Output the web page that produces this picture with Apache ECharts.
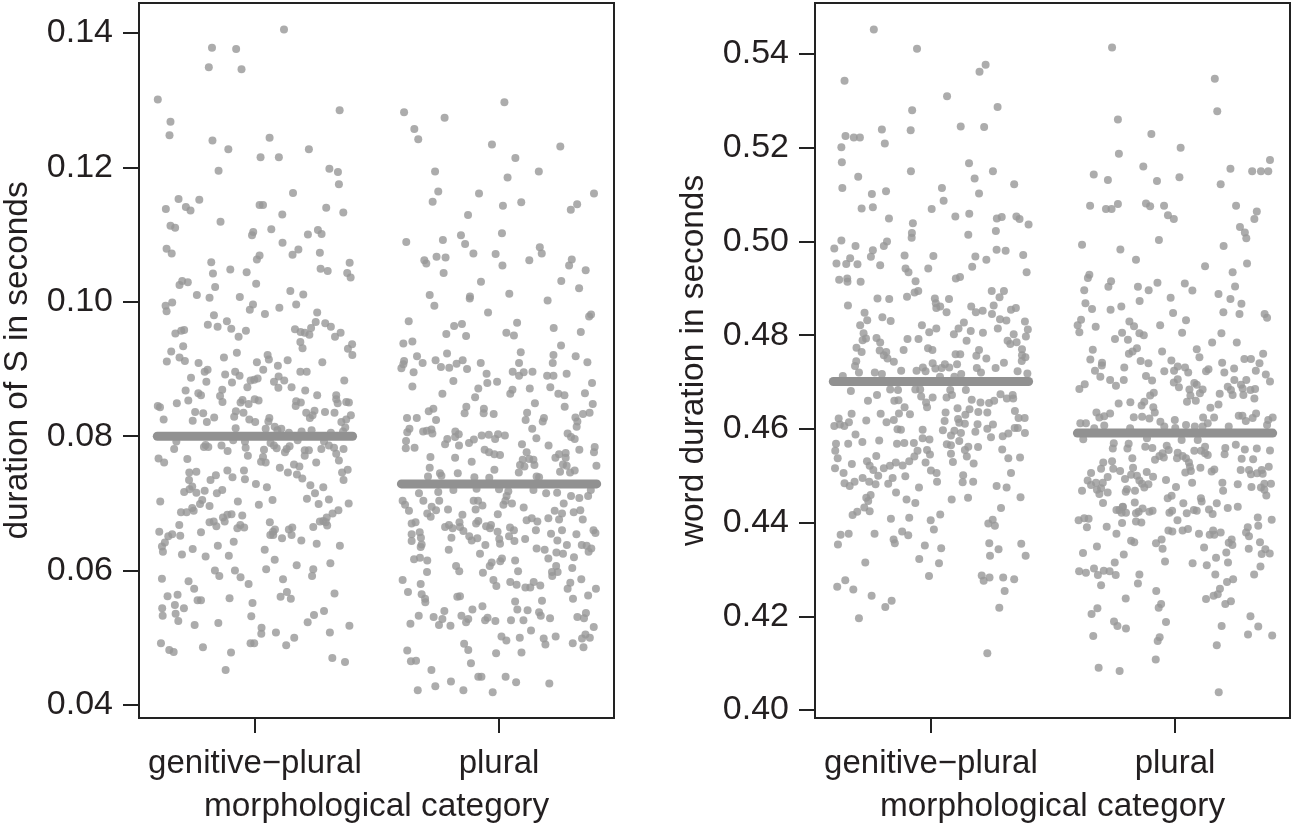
<!DOCTYPE html>
<html><head><meta charset="utf-8">
<style>html,body{margin:0;padding:0;background:#fff}#c{width:1293px;height:825px}</style>
<script src="https://cdn.jsdelivr.net/npm/echarts@6/dist/echarts.min.js"></script>
</head><body><div id="c"></div>
<script>
const categories = ['genitive\u2212plural', 'plural'];
const xTitle = 'morphological category';
const leftTitle = 'duration of S in seconds';
const rightTitle = 'word duration in seconds';
const leftTicks = [0.04, 0.06, 0.08, 0.10, 0.12, 0.14];
const rightTicks = [0.40, 0.42, 0.44, 0.46, 0.48, 0.50, 0.52, 0.54];
const leftMeans = [0.0800, 0.0729];
const rightMeans = [0.4701, 0.4591];

// [jittered category position, duration in seconds]
const durationGenitive = [
[1.119,.1405],[.824,.1378],[.923,.1376],[.811,.1349],[.945,.1346],[.602,.1301],[1.347,.1285],[.654,.1268],[.650,.1248],[.826,.1240],[1.060,.1244],[.891,.1227],[1.221,.1227],[1.023,.1215],[1.098,.1215],[.851,.1195],[1.305,.1198],[1.340,.1193],[1.344,.1175],[1.156,.1162],[.687,.1153],[.772,.1152],[.635,.1138],[.717,.1141],[.736,.1136],[1.019,.1144],[1.033,.1144],[1.292,.1140],[1.362,.1133],[1.112,.1130],[.859,.1119],[.654,.1113],[.673,.1110],[.993,.1104],[.988,.1099],[1.067,.1108],[1.258,.1107],[1.273,.1101],[1.217,.1100],
[1.113,.1088],[.638,.1079],[.659,.1072],[1.178,.1078],[1.154,.1070],[1.266,.1073],[1.019,.1069],[1.008,.1063],[.821,.1059],[1.388,.1058],[.899,.1048],[.966,.1044],[.828,.1042],[1.269,.1049],[1.298,.1046],[1.378,.1043],[1.392,.1036],[.702,.1031],[.725,.1029],[.691,.1025],[1.005,.1027],[.837,.1022],[1.145,.1016],[1.198,.1011],[.762,.1010],[.814,.1006],[.938,.1007],[.661,.0999],[.634,.0994],[.638,.0986],[.992,.0996],[.979,.0988],[1.169,.0996],[1.100,.0991],[1.041,.0982],[1.255,.0984],[.832,.0980],[.807,.0966],[.847,.0963],[.885,.0971],[.903,.0960],[.963,.0957],[.933,.0948],[1.249,.0970],[1.288,.0968],[1.311,.0963],[1.230,.0961],[1.164,.0959],[1.187,.0955],[1.204,.0954],[1.223,.0951],[1.351,.0954],[1.328,.0948],[.710,.0958],[.698,.0957],[.674,.0953],[1.186,.0940],[1.195,.0931],[1.398,.0937],[1.381,.0930],[1.399,.0921],[.706,.0934],[.657,.0926],[.691,.0917],[.713,.0912],[.639,.0911],[.926,.0924],[.873,.0917],[1.052,.0921],[1.057,.0914],[1.134,.0913],[1.008,.0910],[1.276,.0910],[.769,.0909],[1.094,.0905],[1.034,.0899],[.806,.0899],[.794,.0896],[.919,.0896],[.878,.0892],[.937,.0890],[1.186,.0896],[1.212,.0896],[.738,.0887],[1.011,.0886],[.997,.0884],[.982,.0883],[1.097,.0889],[1.078,.0881],[1.120,.0883],[1.366,.0883],[.801,.0881],[.906,.0880],[.969,.0873],[1.096,.0872],[1.150,.0873],[1.206,.0868],[.716,.0868],[.866,.0869],[.857,.0860],[.867,.0851],[.768,.0864],[.779,.0861],[.727,.0853],[.680,.0849],[1.333,.0861],[1.255,.0861],[1.333,.0855],[1.339,.0849],[1.374,.0851],[1.385,.0850],[.949,.0854],[.941,.0850],[.974,.0848],[.999,.0855],[1.015,.0853],[1.169,.0852],[1.188,.0850],[1.167,.0845],[.602,.0845],[.611,.0843],[.626,.0825],[.755,.0836],[.788,.0834],[.833,.0828],[.745,.0823],[.803,.0821],[.922,.0837],[.915,.0829],[.953,.0835],[.977,.0825],[1.001,.0821],[1.059,.0827],[1.055,.0822],[1.210,.0835],[1.244,.0838],[1.236,.0831],[1.225,.0827],[1.287,.0836],[1.326,.0835],[1.393,.0831],[1.374,.0825],[1.354,.0821],[.921,.0812],[1.044,.0811],[1.081,.0814],[1.108,.0811],[1.092,.0809],[1.370,.0813],[1.191,.0807],[1.232,.0809],[1.361,.0807],
[1.139,.0805],[1.311,.0805],[.911,.0794],[1.175,.0794],[.959,.0792],[.678,.0792],[.669,.0781],[.798,.0787],[.791,.0784],[.809,.0784],[.863,.0786],[.888,.0778],[.962,.0783],[.971,.0771],[1.037,.0780],[1.064,.0790],[1.078,.0786],[1.089,.0782],[1.142,.0785],[1.130,.0781],[1.123,.0776],[1.204,.0779],[1.221,.0779],[1.204,.0771],[1.283,.0792],[1.272,.0781],[1.303,.0786],[1.324,.0783],[1.333,.0774],[1.363,.0781],[1.344,.0764],[.605,.0767],[.628,.0761],[.723,.0766],[1.033,.0769],[1.025,.0762],[1.044,.0761],[1.251,.0761],[1.160,.0758],[1.182,.0755],[1.102,.0753],[1.135,.0746],[1.172,.0743],[1.194,.0737],[1.380,.0750],[1.357,.0746],[1.363,.0735],[.731,.0746],[.760,.0747],[.887,.0749],[.955,.0749],[.840,.0742],[.908,.0739],[.959,.0736],[.730,.0735],[.818,.0735],
[1.004,.0729],[1.049,.0724],[1.227,.0727],[1.280,.0724],[.743,.0725],[.732,.0721],[.710,.0717],[.760,.0716],[.794,.0719],[.866,.0720],[.844,.0715],[1.246,.0715],[1.213,.0707],[1.303,.0706],[1.261,.0699],[1.384,.0700],[.612,.0703],[1.072,.0705],[.930,.0703],[1.016,.0698],[.784,.0705],[.775,.0699],[.814,.0696],[.743,.0693],[.749,.0689],[.697,.0687],[.720,.0687],[1.342,.0690],[1.318,.0685],[.904,.0684],[.887,.0683],[.869,.0679],[.948,.0682],[.876,.0673],[1.294,.0679],[1.266,.0673],[1.280,.0674],[1.290,.0672],[1.296,.0667],[1.239,.0665],[1.061,.0672],[.814,.0672],[.831,.0673],[.842,.0666],[.690,.0668],[.940,.0668],[.956,.0664],[.928,.0663],[.608,.0658],[.779,.0657],[1.153,.0664],[1.139,.0661],[1.150,.0653],[1.082,.0661],[1.074,.0658],[1.063,.0653],[1.075,.0653],[.661,.0654],[.645,.0651],[.694,.0652],[1.111,.0648],[1.190,.0645],[.631,.0642],[.619,.0636],[.623,.0628],[1.253,.0640],[.913,.0643],[1.348,.0637],[.848,.0637],[.745,.0632],[.701,.0624],[.798,.0621],[.893,.0622],[1.040,.0631],[1.081,.0616],[1.309,.0611],[1.171,.0608],[.836,.0600],[.854,.0592],[.918,.0600],[.941,.0590],[1.046,.0602],[1.239,.0602],[1.234,.0592],[.619,.0588],[.728,.0584],[1.115,.0587],[.974,.0580],[.751,.0573],[1.131,.0568],[1.105,.0561],[1.147,.0558],[1.326,.0566],[.683,.0564],[.642,.0562],[.896,.0559],[.765,.0556],[.779,.0556],[.990,.0552],[.672,.0549],[.620,.0544],[.709,.0544],[.675,.0536],[.622,.0533],[.686,.0525],[.985,.0532],[1.283,.0540],[1.242,.0534],[1.216,.0523],[.753,.0519],[.850,.0522],[1.027,.0515],[1.026,.0506],[1.086,.0508],[1.387,.0518],[1.307,.0508],[1.161,.0500],[1.128,.0489],[.615,.0492],[.649,.0482],[.667,.0479],[.787,.0486],[.982,.0492],[.997,.0492],[.902,.0478],[.880,.0452],[1.317,.0470],[1.369,.0464]
];

const durationPlural = [
[2.022,.1297],[1.611,.1282],[1.777,.1274],[1.653,.1257],[1.669,.1242],[1.971,.1234],[2.251,.1231],[2.067,.1214],[1.738,.1194],[2.163,.1194],[2.035,.1185],[1.751,.1164],[1.918,.1161],[2.389,.1161],[1.728,.1149],[2.091,.1148],[2.016,.1143],[2.320,.1145],[2.294,.1137],[1.873,.1129],[2.012,.1102],[1.844,.1099],[1.620,.1089],[1.770,.1092],[1.861,.1086],[2.167,.1081],[2.175,.1072],[1.895,.1072],[1.986,.1071],[1.744,.1067],[1.781,.1066],[1.694,.1062],[1.702,.1057],[2.124,.1062],[2.298,.1063],[2.014,.1054],[2.287,.1054],[2.355,.1047],[1.773,.1043],[1.926,.1030],[2.255,.1031],[2.328,.1020],[1.716,.1010],[2.042,.1012],[1.881,.1008],[1.880,.1005],[2.199,.1002],[1.735,.0994],[1.955,.0984],[2.377,.0981],[2.369,.0978],[1.630,.0971],[2.074,.0969],[1.816,.0964],[1.848,.0967],[2.224,.0961],
[1.784,.0952],[1.865,.0949],[2.030,.0954],[2.061,.0950],[2.335,.0955],[1.608,.0938],[1.645,.0941],[2.254,.0935],[2.089,.0925],[2.223,.0921],[2.314,.0919],[1.787,.0923],[1.664,.0919],[1.611,.0912],[1.687,.0909],[1.740,.0913],[2.082,.0909],[2.220,.0909],[2.362,.0910],[1.608,.0907],[1.600,.0901],[1.762,.0903],[1.796,.0902],[1.826,.0908],[1.851,.0913],[1.869,.0900],[1.925,.0909],[1.650,.0895],[1.949,.0893],[2.056,.0896],[2.101,.0895],[2.082,.0890],[2.137,.0896],[2.197,.0890],[2.223,.0890],[2.277,.0893],[1.813,.0882],[1.645,.0874],[1.952,.0879],[1.992,.0881],[2.381,.0879],[1.915,.0871],[2.126,.0871],[2.210,.0873],[2.055,.0869],[2.046,.0863],[1.768,.0863],[2.243,.0863],[2.268,.0861],[2.352,.0864],[1.902,.0858],[2.147,.0849],[2.384,.0848],[2.269,.0844],[1.866,.0844],[1.731,.0841],[1.712,.0837],[1.938,.0841],[1.859,.0834],[1.937,.0834],[1.978,.0833],[2.115,.0835],[2.371,.0835],[2.344,.0833],[2.313,.0828],[1.623,.0827],[1.663,.0827],[1.742,.0824],[2.109,.0824],[2.184,.0827],[2.179,.0822],[2.321,.0822],[2.318,.0814],[2.136,.0811],[1.633,.0811],[1.624,.0806],[1.689,.0807],[1.723,.0810],[1.704,.0808],[1.727,.0804],[1.821,.0807],[1.835,.0803],[1.820,.0799],[2.281,.0804],[2.295,.0799],[2.310,.0796],[2.153,.0797],[1.929,.0801],[1.958,.0802],[1.996,.0803],[2.024,.0801],[1.984,.0796],[1.788,.0796],[1.897,.0795],[1.877,.0790],[1.779,.0788],[1.836,.0786],[1.619,.0793],[1.618,.0782],[1.654,.0783],[2.094,.0788],[2.203,.0786],[2.392,.0784],[2.389,.0776],[2.329,.0780],[1.941,.0780],[1.959,.0776],[1.981,.0773],[2.004,.0772],[2.113,.0776],[2.246,.0773],[2.273,.0775],[2.231,.0768],[2.273,.0768],[1.719,.0769],[1.820,.0768],[1.888,.0762],[2.097,.0765],[2.124,.0766],[2.141,.0765],[2.086,.0757],[2.145,.0757],[2.104,.0755],[2.262,.0758],[2.277,.0756],[2.399,.0756],[1.716,.0753],[1.981,.0750],[2.081,.0746],[1.831,.0745],[2.250,.0747],[2.291,.0746],[2.310,.0749],[1.709,.0740],[1.758,.0745],[1.764,.0741],[1.899,.0739],[1.960,.0738],[2.154,.0740],[2.164,.0739],
[1.672,.0715],[1.751,.0717],[1.813,.0720],[1.908,.0722],[2.000,.0721],[2.038,.0718],[2.031,.0711],[2.141,.0720],[2.193,.0715],[2.238,.0716],[2.295,.0711],[2.329,.0708],[2.365,.0711],[2.376,.0720],[1.605,.0704],[1.615,.0698],[1.631,.0689],[1.690,.0704],[1.755,.0704],[1.896,.0704],[1.914,.0704],[1.932,.0697],[1.904,.0691],[2.026,.0704],[2.018,.0698],[2.053,.0700],[2.101,.0694],[2.265,.0700],[1.791,.0691],[1.724,.0695],[1.742,.0690],[1.706,.0685],[1.720,.0680],[1.850,.0683],[1.995,.0684],[2.228,.0689],[2.258,.0685],[2.306,.0687],[2.333,.0690],
[2.113,.0675],[2.134,.0678],[2.157,.0673],[2.202,.0678],[2.246,.0676],[2.343,.0676],[1.642,.0670],[1.658,.0672],[1.915,.0674],[1.906,.0670],[1.779,.0665],[1.795,.0668],[1.810,.0663],[1.838,.0672],[1.840,.0665],[1.854,.0659],[1.947,.0666],[1.967,.0668],[1.963,.0663],[1.994,.0658],[2.045,.0664],[2.061,.0660],[2.151,.0660],[2.258,.0660],[2.387,.0660],[2.395,.0656],[2.213,.0655],[2.317,.0654],[1.642,.0654],[1.675,.0657],[1.642,.0644],[1.680,.0649],[1.683,.0639],[1.679,.0635],[1.805,.0649],[1.878,.0651],[1.888,.0645],[1.911,.0648],[2.001,.0647],[2.004,.0640],[2.041,.0651],[2.063,.0644],[2.107,.0647],[2.239,.0645],[1.944,.0638],[2.278,.0638],[2.339,.0638],[2.359,.0637],[2.378,.0633],[2.367,.0628],[1.794,.0631],[2.154,.0633],[2.187,.0631],[2.235,.0627],[2.262,.0625],[1.922,.0625],[2.202,.0618],[2.307,.0620],[1.652,.0617],[1.676,.0619],[1.706,.0615],[2.012,.0618],[2.005,.0614],[2.066,.0615],[1.970,.0612],[1.962,.0607],[1.824,.0607],[1.837,.0599],[2.234,.0607],[2.300,.0604],[1.705,.0598],[1.934,.0597],[2.078,.0599],[2.217,.0598],[2.240,.0598],[2.218,.0592],[2.337,.0587],[1.605,.0586],[1.977,.0586],[1.989,.0577],[1.679,.0580],[2.046,.0583],[2.072,.0579],[2.142,.0583],[2.108,.0575],[2.128,.0575],[2.169,.0578],[2.292,.0582],[2.281,.0573],[2.397,.0573],[1.627,.0568],[1.683,.0565],[1.697,.0558],[1.698,.0553],[1.829,.0561],[1.840,.0562],[2.365,.0563],[2.303,.0558],[2.066,.0554],[2.176,.0555],[1.932,.0547],[1.891,.0542],[2.075,.0542],[2.117,.0541],[1.776,.0540],[2.164,.0538],[2.171,.0533],[2.356,.0537],[1.671,.0533],[1.732,.0531],[1.768,.0528],[1.846,.0533],[1.874,.0528],[1.865,.0523],[1.953,.0530],[1.943,.0526],[2.209,.0529],[2.321,.0531],[2.348,.0529],[1.637,.0521],[1.754,.0519],[1.801,.0518],[1.985,.0525],[2.049,.0526],[2.100,.0526],[2.388,.0516],[2.131,.0511],[2.010,.0502],[2.030,.0496],[2.085,.0500],[2.183,.0499],[2.190,.0490],[2.232,.0502],[2.354,.0505],[2.340,.0499],[2.372,.0500],[2.302,.0492],[2.346,.0486],[1.857,.0491],[1.874,.0482],[1.624,.0481],[1.988,.0477],[2.092,.0478],[1.639,.0465],[1.660,.0466],[1.885,.0462],[1.723,.0452],[1.915,.0442],[1.928,.0442],[2.027,.0442],[2.070,.0434],[1.803,.0435],[2.206,.0432],[1.739,.0428],[1.667,.0422],[1.854,.0422],[1.974,.0419]
];

const wordGenitive = [
[.766,.5452],[.943,.5411],[1.224,.5377],[1.199,.5362],[.646,.5343],[1.066,.5310],[1.273,.5287],[.923,.5280],[.799,.5239],[.917,.5237],[1.122,.5245],[1.218,.5244],[.650,.5225],[.684,.5222],[.709,.5222],[.633,.5201],[.811,.5209],[.635,.5169],[1.156,.5167],[.918,.5150],[1.254,.5150],[.702,.5138],[1.179,.5134],[.637,.5114],[1.045,.5114],[1.341,.5122],[.816,.5107],[.758,.5101],[1.197,.5102],[1.052,.5087],[.716,.5070],[.762,.5073],[1.003,.5069],[.828,.5049],[1.100,.5053],[1.157,.5059],[1.270,.5049],[1.290,.5052],[1.350,.5053],[1.363,.5048],[1.400,.5036],[.926,.5039],[1.266,.5022],[.922,.5018],[.921,.5008],[1.153,.5014],[.633,.5002],[.820,.5000],[.807,.4990],[.604,.4985],[.691,.4990],[.762,.4981],[.892,.4970],[1.010,.4969],[1.269,.4982],[1.306,.4980],[1.378,.4971],[1.182,.4968],[1.227,.4961],[.754,.4967],[.669,.4964],[.613,.4953],[.653,.4952],[.699,.4951],[.792,.4949],[.896,.4942],[.908,.4934],[.989,.4942],[1.169,.4946],[1.392,.4934],[.624,.4918],[.657,.4921],[.658,.4914],[.712,.4914],[.937,.4915],[1.102,.4921],[1.119,.4924],[1.249,.4894],[1.299,.4894],[.933,.4891],[.948,.4894],[1.281,.4881],[.902,.4882],[.781,.4878],[.829,.4877],[1.016,.4878],[1.074,.4877],
[.660,.4863],[1.020,.4868],[1.038,.4861],[1.022,.4858],[1.165,.4861],[1.064,.4849],[1.184,.4849],[1.212,.4852],[1.257,.4863],[1.250,.4845],[1.348,.4858],[1.328,.4854],[.728,.4848],[.801,.4838],[.739,.4832],[.835,.4830],[1.283,.4834],[1.309,.4831],[1.385,.4829],[.710,.4821],[.963,.4821],[1.135,.4827],[1.113,.4814],[1.022,.4814],[.993,.4806],[1.163,.4809],[1.094,.4802],[1.213,.4805],[1.274,.4814],[1.397,.4812],[1.339,.4802],[1.389,.4797],[.724,.4804],[.734,.4793],[.720,.4789],[.777,.4794],[.792,.4784],[.904,.4792],[.949,.4792],[1.146,.4788],[1.314,.4788],[1.325,.4781],[1.351,.4785],[.695,.4773],[.716,.4764],[.888,.4768],[.988,.4772],[1.006,.4768],[.790,.4767],[.817,.4764],[.807,.4757],[.822,.4750],[1.197,.4768],[1.186,.4756],[1.101,.4759],[1.120,.4759],[1.373,.4770],[1.373,.4757],[1.387,.4753],[1.372,.4745],[1.227,.4750],[1.299,.4741],[.848,.4743],[.694,.4744],[.689,.4734],[1.007,.4740],[1.107,.4738],[1.057,.4738],[1.044,.4730],[1.075,.4731],[1.018,.4729],[.967,.4731],[.978,.4723],[1.188,.4730],[1.265,.4730],[.941,.4724],[.878,.4724],[.705,.4720],[.770,.4720],[.799,.4717],[1.205,.4720],[1.355,.4723],[1.395,.4718],[.639,.4713],[1.124,.4717],[1.037,.4711],[1.096,.4711],
[.672,.4681],[.833,.4684],[.865,.4683],[.936,.4684],[.956,.4684],[1.079,.4683],[1.143,.4683],[.779,.4672],[.960,.4669],[1.007,.4667],[1.064,.4667],[1.086,.4672],[1.285,.4674],[1.335,.4672],[1.311,.4665],[1.337,.4665],[.742,.4660],[.850,.4660],[.867,.4661],[1.167,.4662],[1.203,.4656],[1.238,.4655],[1.259,.4660],[.980,.4656],[.984,.4646],[.892,.4646],[1.109,.4644],[1.158,.4642],[1.344,.4638],[.869,.4633],[.794,.4632],[.914,.4631],[.675,.4632],[1.060,.4635],[1.141,.4630],[1.194,.4636],[1.231,.4635],[.622,.4622],[.848,.4619],[.818,.4614],[.735,.4618],[.664,.4614],[1.056,.4617],[1.111,.4621],[1.116,.4613],[1.139,.4611],[1.359,.4623],[1.384,.4623],[1.191,.4610],[1.254,.4609],[.604,.4606],[.627,.4609],[.645,.4606],[1.049,.4597],[.966,.4598],[.863,.4599],[.877,.4598],[1.231,.4600],[1.182,.4594],[1.343,.4602],[1.356,.4602],[1.096,.4596],[1.123,.4591],[1.082,.4586],[1.385,.4591],[.691,.4588],[1.246,.4582],[1.317,.4590],[1.294,.4584],[.966,.4580],[.994,.4577],[.788,.4575],[.719,.4572],[.661,.4568],[.611,.4568],[.861,.4568],[.891,.4570],[.930,.4570],[1.116,.4574],[1.065,.4567],[1.082,.4565],[1.193,.4561],[1.153,.4562],[1.139,.4555],[1.292,.4556],[.608,.4553],[.945,.4553],[.984,.4555],[1.082,.4547],[.996,.4545],[.618,.4537],[.776,.4542],[.932,.4541],[1.147,.4541],[1.317,.4537],[1.365,.4539],[.911,.4531],[.738,.4531],[.856,.4528],[.978,.4528],[1.090,.4529],[.676,.4525],[.884,.4522],[.832,.4521],[.749,.4521],[1.175,.4526],[.807,.4516],[.764,.4512],[.607,.4516],[1.000,.4511],[1.023,.4506],[1.328,.4506],[.642,.4506],[.784,.4500],[.895,.4499],[1.132,.4501],[.720,.4495],[.843,.4495],[.747,.4487],[.687,.4487],[.646,.4484],[.667,.4478],[.773,.4482],[.825,.4483],[1.025,.4487],[1.130,.4486],[1.173,.4487],[1.269,.4478],[1.310,.4475],[.951,.4475],
[.857,.4464],[1.367,.4454],[.753,.4459],[.735,.4453],[.743,.4446],[.900,.4449],[.936,.4442],[1.085,.4449],[1.152,.4453],[1.287,.4431],[.727,.4432],[.698,.4423],[.749,.4424],[.679,.4416],[1.038,.4417],[.836,.4408],[.911,.4410],[.999,.4405],[1.253,.4406],[1.235,.4398],[1.262,.4393],[1.012,.4385],[.882,.4381],[.907,.4373],[.663,.4376],[.630,.4374],[.769,.4376],[.847,.4364],[.852,.4356],[.619,.4353],[.975,.4351],[1.239,.4356],[1.370,.4355],[1.042,.4345],[1.277,.4343],[1.242,.4329],[1.388,.4329],[.952,.4322],[.731,.4315],[1.033,.4313],[.992,.4286],[1.208,.4287],[1.216,.4276],[1.240,.4283],[1.296,.4283],[1.341,.4279],[.649,.4277],[.616,.4263],[.682,.4257],[1.302,.4254],[.757,.4244],[.839,.4233],[.813,.4220],[1.280,.4218],[.705,.4196],[1.231,.4121]
];

const wordPlural = [
[1.742,.5414],[2.163,.5347],[2.173,.5278],[1.766,.5260],[1.903,.5229],[2.023,.5200],[1.770,.5187],[1.870,.5160],[1.667,.5143],[1.725,.5131],[1.926,.5129],[2.018,.5137],[2.227,.5155],[2.316,.5150],[2.352,.5150],[2.382,.5150],[2.389,.5174],[2.187,.5122],[1.652,.5076],[1.717,.5069],[1.740,.5069],[1.766,.5080],[1.881,.5081],[1.898,.5075],[1.955,.5076],[1.971,.5056],[1.995,.5048],[2.250,.5076],[2.335,.5064],[2.325,.5048],[2.266,.5031],[2.286,.5019],[2.292,.5007],[1.934,.5003],[1.619,.4993],[2.199,.4990],[1.776,.4983],[1.840,.4961],[2.123,.4947],[2.295,.4953],[1.649,.4929],[1.643,.4922],[2.236,.4934],[1.738,.4915],[1.727,.4903],[1.928,.4912],[1.848,.4903],[1.892,.4896],[2.040,.4910],[2.071,.4895],[2.246,.4904],[1.628,.4896],[2.178,.4888],[1.982,.4880],[2.227,.4877],[1.633,.4868],[1.855,.4873],[2.272,.4867],[1.660,.4856],[1.736,.4854],[1.780,.4861],[1.992,.4847],[2.198,.4849],[2.264,.4845],[2.367,.4845],[2.377,.4837],[1.615,.4833],[1.813,.4829],[2.045,.4832],[1.601,.4821],[1.675,.4818],[1.832,.4819],[1.939,.4821],
[1.608,.4806],[1.783,.4805],[1.854,.4804],[1.872,.4800],[2.029,.4805],[2.190,.4804],[1.754,.4792],[1.807,.4790],[2.152,.4784],[2.253,.4784],[1.663,.4769],[1.844,.4772],[1.826,.4765],[1.811,.4760],[1.947,.4765],[2.089,.4770],[2.100,.4753],[2.361,.4760],[1.653,.4748],[1.701,.4741],[1.700,.4735],[1.859,.4745],[1.891,.4740],[1.985,.4746],[2.284,.4749],[2.311,.4749],[2.193,.4741],[2.346,.4740],[1.792,.4731],[2.011,.4733],[2.041,.4731],[2.242,.4729],[1.672,.4724],[1.956,.4723],[1.996,.4724],[2.054,.4720],[2.137,.4727],[2.127,.4723],[2.202,.4720],[2.331,.4724],[1.694,.4711],[1.881,.4713],[2.372,.4716],[1.734,.4704],[1.790,.4704],[1.906,.4703],[2.011,.4706],[1.995,.4699],[2.243,.4704],[2.292,.4704],[2.389,.4701],[1.630,.4695],[1.608,.4685],[1.758,.4692],[2.079,.4698],[2.089,.4694],[2.016,.4689],[2.270,.4694],[2.216,.4690],[2.277,.4686],[2.059,.4684],[2.113,.4684],[2.309,.4683],[2.328,.4685],[2.229,.4683],[2.102,.4676],[1.913,.4677],[1.898,.4671],[2.183,.4675],[2.280,.4672],[2.236,.4672],[2.063,.4671],[2.325,.4665],[2.049,.4658],[2.085,.4660],[1.769,.4654],[1.817,.4657],[1.874,.4658],[1.863,.4650],[2.178,.4652],[2.145,.4645],[1.911,.4646],[1.917,.4635],[1.678,.4635],[1.734,.4633],[1.710,.4627],[1.690,.4624],[1.831,.4625],[1.865,.4626],[1.895,.4622],[1.999,.4619],[2.115,.4624],[2.160,.4624],[2.261,.4628],[2.276,.4628],[2.290,.4617],[2.332,.4633],[2.318,.4623],[2.400,.4624],[2.382,.4619],[2.377,.4608],[1.940,.4615],[1.612,.4612],[1.635,.4612],[1.710,.4607],[1.669,.4601],[1.956,.4605],[2.045,.4608],[2.081,.4605],[2.134,.4612],[2.113,.4605],[2.220,.4605],[1.816,.4601],[2.001,.4602],
[1.624,.4578],[1.885,.4580],[2.027,.4576],[2.093,.4576],[1.749,.4569],[1.810,.4568],[1.745,.4558],[1.805,.4558],[1.878,.4562],[1.907,.4559],[1.966,.4564],[1.974,.4555],[2.123,.4562],[2.079,.4553],[2.107,.4553],[2.123,.4548],[2.134,.4544],[2.206,.4559],[2.203,.4546],[2.249,.4566],[2.286,.4556],[2.335,.4558],[2.389,.4554],[1.949,.4548],[1.936,.4542],[1.954,.4539],[1.918,.4534],[2.011,.4549],[2.008,.4537],[2.031,.4542],[2.045,.4537],[1.825,.4537],[1.742,.4531],[2.273,.4536],[2.320,.4535],[2.057,.4528],[1.706,.4528],[1.697,.4515],[1.747,.4515],[1.775,.4510],[1.828,.4517],[1.884,.4508],[1.910,.4498],[2.061,.4519],[2.065,.4510],[2.042,.4507],[2.104,.4517],[2.161,.4513],[2.150,.4509],[2.269,.4512],[2.303,.4512],[2.311,.4503],[2.336,.4505],[2.355,.4512],[2.359,.4504],[2.384,.4519],[1.656,.4506],[1.724,.4497],[1.820,.4502],[1.844,.4500],[1.795,.4493],[1.963,.4491],[1.642,.4490],[1.854,.4490],[1.865,.4483],[1.891,.4482],[1.874,.4475],[2.004,.4476],[2.070,.4485],[2.194,.4485],[2.257,.4482],[2.313,.4476],[2.366,.4483],[2.393,.4483],[2.352,.4475],[1.676,.4485],[1.704,.4485],[1.656,.4480],[1.697,.4473],[1.680,.4470],[1.724,.4464],[1.619,.4468],[1.690,.4461],[1.803,.4471],[1.798,.4466],[1.836,.4468],[2.197,.4468],[2.366,.4470],[2.374,.4458],[1.986,.4457],[1.970,.4452],[2.106,.4452],[2.109,.4445],[1.835,.4443],[1.705,.4442],[2.034,.4441],[2.171,.4441],[1.786,.4433],[2.216,.4431],[2.257,.4434],
[1.772,.4427],[1.786,.4434],[1.799,.4421],[1.781,.4421],[1.760,.4427],[1.840,.4420],[1.851,.4423],[1.867,.4430],[1.895,.4423],[1.908,.4425],[1.977,.4421],[1.988,.4425],[2.048,.4420],[2.077,.4427],[2.089,.4425],[2.139,.4428],[2.154,.4418],[1.605,.4405],[1.628,.4409],[1.646,.4408],[1.639,.4390],[1.720,.4391],[1.783,.4399],[1.840,.4402],[1.862,.4400],[2.010,.4405],[2.339,.4411],[2.396,.4406],[2.341,.4393],[2.298,.4390],[2.291,.4379],[2.303,.4371],[1.973,.4383],[1.989,.4381],[2.031,.4383],[2.053,.4386],[2.098,.4376],[2.156,.4383],[2.142,.4374],[2.161,.4374],[2.187,.4379],[1.760,.4376],[1.820,.4361],[1.833,.4358],[1.945,.4364],[1.922,.4356],[2.232,.4364],[2.220,.4357],[2.235,.4352],[2.348,.4358],[1.680,.4349],[1.949,.4344],[2.119,.4347],[2.302,.4344],[2.370,.4343],[1.623,.4335],[1.790,.4332],[2.210,.4336],[2.355,.4333],[2.388,.4334],[2.168,.4325],[1.753,.4315],[1.959,.4317],[2.072,.4313],[2.130,.4309],[2.217,.4315],[2.350,.4306],[1.668,.4302],[1.607,.4296],[1.635,.4293],[1.708,.4297],[1.732,.4296],[1.684,.4288],[1.757,.4288],[1.854,.4289],[2.165,.4289],[2.324,.4289],[2.238,.4279],[2.213,.4273],[1.697,.4266],[1.848,.4270],[2.184,.4259],[1.923,.4254],[2.175,.4247],[2.158,.4244],[2.127,.4237],[1.798,.4238],[2.229,.4232],[2.206,.4226],[1.943,.4226],[1.933,.4218],[1.682,.4217],[1.658,.4205],[2.309,.4200],[1.963,.4188],[1.750,.4189],[1.764,.4179],[1.799,.4174],[2.191,.4179],[2.341,.4178],[2.299,.4161],[2.398,.4159],[1.665,.4158],[1.937,.4155],[1.929,.4147],[2.171,.4138],[1.921,.4108],[1.687,.4090],[1.773,.4083],[2.179,.4038]
];

const FONT = '"Liberation Sans", Arial, sans-serif';
const TEXT = '#231f20', FRAME = '#222222', DOT = '#979797', BAR = '#919191';

function xAxis(idx) {
  return {
    gridIndex: idx, type: 'value', min: 0.525, max: 2.471,
    splitLine: {show: false}, axisLine: {show: false},
    axisTick: {show: true, length: 15, inside: false, customValues: [1, 2], lineStyle: {color: FRAME, width: 2}},
    axisLabel: {show: true, customValues: [1, 2], margin: 29, fontFamily: FONT, fontSize: 33, color: TEXT,
      formatter: v => categories[Math.round(v) - 1]},
    name: xTitle, nameLocation: 'middle', nameGap: 72,
    nameTextStyle: {fontFamily: FONT, fontSize: 33.4, color: TEXT}
  };
}
function yAxis(idx, min, max, ticks, title, gap) {
  return {
    gridIndex: idx, type: 'value', min, max,
    splitLine: {show: false}, axisLine: {show: false},
    axisTick: {show: true, length: 16, customValues: ticks, lineStyle: {color: FRAME, width: 2}},
    axisLabel: {show: true, customValues: ticks, margin: 26, padding: [3, 0, 0, 0], fontFamily: FONT, fontSize: 34, color: TEXT,
      formatter: v => v.toFixed(2)},
    name: title, nameLocation: 'middle', nameRotate: 90, nameGap: gap,
    nameTextStyle: {fontFamily: FONT, fontSize: 33.4, color: TEXT}
  };
}
function dots(idx, data) {
  return {type: 'scatter', xAxisIndex: idx, yAxisIndex: idx, data, symbolSize: 8,
    itemStyle: {color: DOT}, silent: true, z: 2};
}
function mean(idx, cat, value) {
  return {type: 'line', xAxisIndex: idx, yAxisIndex: idx, showSymbol: false, symbol: 'none',
    data: [[cat - 0.4, value], [cat + 0.4, value]],
    lineStyle: {color: BAR, width: 9, cap: 'round'}, silent: true, z: 3};
}

const chart = echarts.init(document.getElementById('c'), null, {renderer: 'canvas'});
chart.setOption({
  animation: false,
  backgroundColor: '#fff',
  grid: [
    {left: 139, top: 3, width: 475, height: 715, outerBoundsMode: 'none', containLabel: false, show: true, borderColor: FRAME, borderWidth: 2, backgroundColor: 'transparent'},
    {left: 815, top: 3, width: 475, height: 715, outerBoundsMode: 'none', containLabel: false, show: true, borderColor: FRAME, borderWidth: 2, backgroundColor: 'transparent'}
  ],
  xAxis: [xAxis(0), xAxis(1)],
  yAxis: [
    yAxis(0, 0.03807, 0.14446, leftTicks, leftTitle, 105),
    yAxis(1, 0.39829, 0.55088, rightTicks, rightTitle, 105)
  ],
  series: [
    dots(0, durationGenitive), dots(0, durationPlural), dots(1, wordGenitive), dots(1, wordPlural),
    mean(0, 1, leftMeans[0]), mean(0, 2, leftMeans[1]), mean(1, 1, rightMeans[0]), mean(1, 2, rightMeans[1])
  ]
});
</script></body></html>
